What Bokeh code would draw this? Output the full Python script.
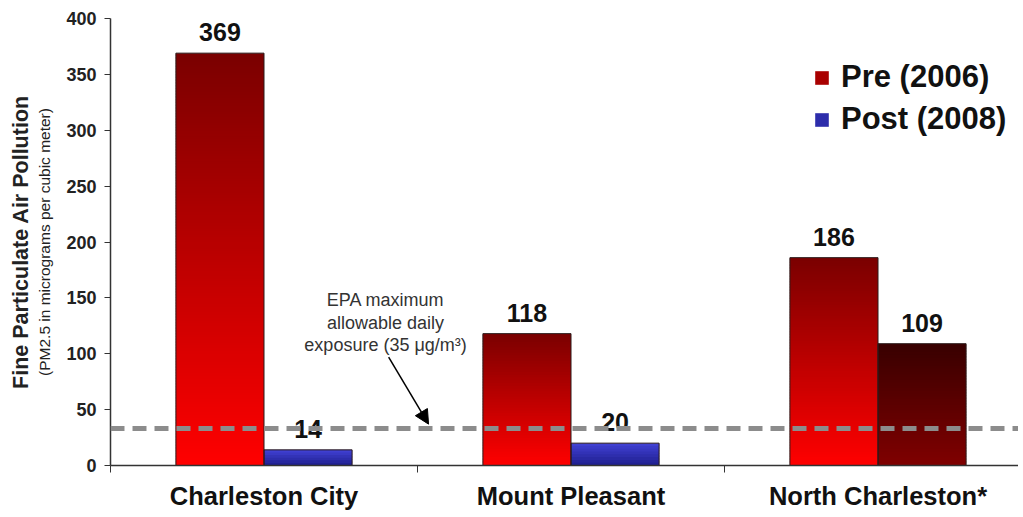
import math
from bokeh.plotting import figure
from bokeh.models import (Range1d, FixedTicker, ColumnDataSource, LabelSet, Span,
                          Label, Arrow, NormalHead, Legend, LegendItem, LinearAxis)
from bokeh.core.properties import value
from bokeh.embed import file_html
from bokeh.resources import INLINE

# ---- data ----
categories = ["Charleston City", "Mount Pleasant", "North Charleston*"]
pre_2006 = [369, 118, 186]
post_2008 = [14, 20, 109]
epa_line_level = 33          # dashed line as drawn
y_ticks = [0, 50, 100, 150, 200, 250, 300, 350, 400]
series_labels = ["Pre (2006)", "Post (2008)"]

# ---- styles ----
RED_TOP, RED_BOT = (122, 0, 0), (255, 0, 0)
BLUE_TOP, BLUE_BOT = (66, 66, 214), (30, 30, 140)
DARK_TOP, DARK_BOT = (56, 0, 0), (128, 0, 0)
post_palette = [(BLUE_TOP, BLUE_BOT), (BLUE_TOP, BLUE_BOT), (DARK_TOP, DARK_BOT)]
FONT = "Liberation Sans"
BAR_W = 0.287
STEP = 2.5   # gradient strip height (data units)


def hexcol(c):
    return "#%02x%02x%02x" % tuple(int(round(v)) for v in c)


def mix(top, bot, t):  # t=0 bottom, 1 top
    return hexcol([b + (tp - b) * t for tp, b in zip(top, bot)])


def strips(values, lefts, palettes):
    d = dict(left=[], right=[], bottom=[], top=[], color=[])
    for v, l, (ct, cb) in zip(values, lefts, palettes):
        n = max(3, int(math.ceil(v / STEP)))
        for k in range(n):
            b = v * k / n
            t = min(v, v * (k + 1.6) / n)
            d["left"].append(l)
            d["right"].append(l + BAR_W)
            d["bottom"].append(b)
            d["top"].append(t)
            d["color"].append(mix(ct, cb, (k + 0.5) / n))
    return ColumnDataSource(d), d


centers = [i + 0.5 for i in range(len(categories))]
pre_left = [c - BAR_W for c in centers]
post_left = [c for c in centers]

p = figure(width=1018, height=512, output_backend="svg", toolbar_location=None,
           x_range=Range1d(0, 908 / 307), y_range=Range1d(0, 400),
           min_border_left=110, min_border_right=0, min_border_top=18,
           min_border_bottom=47)
p.outline_line_color = None
p.xgrid.visible = False
p.ygrid.visible = False
p.background_fill_color = "white"

pre_src, pre_d = strips(pre_2006, pre_left, [(RED_TOP, RED_BOT)] * 3)
post_src, post_d = strips(post_2008, post_left, post_palette)
r_pre = p.quad(left="left", right="right", bottom="bottom", top="top",
               fill_color="color", line_color=None, source=pre_src)
r_post = p.quad(left="left", right="right", bottom="bottom", top="top",
                fill_color="color", line_color=None, source=post_src)

# bar outlines
out_src = ColumnDataSource(dict(
    left=pre_left + post_left,
    right=[l + BAR_W for l in pre_left + post_left],
    top=pre_2006 + post_2008,
    bottom=[0] * 6))
p.quad(left="left", right="right", bottom="bottom", top="top", source=out_src,
       fill_color=None, line_color="#2b1a1a", line_width=1)

# value labels
lab_src = ColumnDataSource(dict(
    x=[c - BAR_W / 2 for c in centers] + [c + BAR_W / 2 for c in centers],
    y=pre_2006 + post_2008,
    t=[str(v) for v in pre_2006 + post_2008]))
p.add_layout(LabelSet(x="x", y="y", text="t", source=lab_src, y_offset=12,
                      text_align="center", text_baseline="alphabetic",
                      text_font=value(FONT), text_font_style="bold",
                      text_font_size="25px", text_color="#111111"))

# EPA dashed line
p.add_layout(Span(location=epa_line_level, dimension="width", line_color="#8c8c8c",
                  line_width=5, line_dash="14 8"))

# annotation text + arrow
ann_lines = ["EPA maximum", "allowable daily", "exposure (35 \u03bcg/m\u00b3)"]
for i, txt in enumerate(ann_lines):
    p.add_layout(Label(x=0.896, y=148 - i * 20.2, text=txt, text_align="center",
                       text_baseline="middle", text_font=FONT,
                       text_font_size="18px", text_color="#333333"))
p.add_layout(Arrow(end=NormalHead(size=14, fill_color="black", line_color="black"),
                   x_start=0.906, y_start=97, x_end=1.036, y_end=37,
                   line_color="black", line_width=1.5))

# axes
xa = p.xaxis[0]
xa.ticker = FixedTicker(ticks=centers, minor_ticks=[0, 1, 2, 3])
xa.major_label_overrides = {c: n for c, n in zip(centers, categories)}
xa.major_tick_line_color = None
xa.major_tick_out = 0
xa.minor_tick_out = 7
xa.minor_tick_in = 0
xa.minor_tick_line_color = "#333333"
xa.axis_line_color = "#333333"
xa.axis_line_width = 1.5
xa.major_label_standoff = 9
xa.major_label_text_font = FONT
xa.major_label_text_font_style = "bold"
xa.major_label_text_font_size = "25.5px"
xa.major_label_text_color = "#111111"

ya = p.yaxis[0]
ya.ticker = FixedTicker(ticks=y_ticks)
ya.major_tick_out = 6
ya.major_tick_in = 0
ya.minor_tick_line_color = None
ya.major_tick_line_color = "#333333"
ya.axis_line_color = "#333333"
ya.axis_line_width = 1.5
ya.major_label_standoff = 8
ya.major_label_text_font = FONT
ya.major_label_text_font_style = "bold"
ya.major_label_text_font_size = "18px"
ya.major_label_text_color = "#222222"
ya.axis_label = "(PM2.5 in micrograms per cubic meter)"
ya.axis_label_text_font = FONT
ya.axis_label_text_font_style = "normal"
ya.axis_label_text_font_size = "15.5px"
ya.axis_label_text_color = "#222222"
ya.axis_label_standoff = 10

ya2 = LinearAxis(ticker=FixedTicker(ticks=[]), axis_line_color=None,
                 major_tick_line_color=None, minor_tick_line_color=None,
                 major_label_text_font_size="0px",
                 axis_label="Fine Particulate Air Pollution",
                 axis_label_text_font=FONT, axis_label_text_font_style="bold",
                 axis_label_text_font_size="21.5px", axis_label_text_color="#222222",
                 axis_label_standoff=1)
p.add_layout(ya2, "left")

# legend (swatches taken from strips of each series)
pre_idx = len(pre_d["left"]) // 2 - 40
post_idx = 2
legend = Legend(items=[LegendItem(label=series_labels[0], renderers=[r_pre], index=pre_idx),
                       LegendItem(label=series_labels[1], renderers=[r_post], index=post_idx)],
                location=(703, 328), border_line_color=None, background_fill_alpha=0,
                glyph_width=17, glyph_height=17, label_standoff=11, spacing=6,
                padding=0, margin=0,
                label_text_font=FONT, label_text_font_style="bold",
                label_text_font_size="31px", label_text_color="#111111")
p.add_layout(legend)

open("out.html", "w").write(file_html(p, INLINE))
